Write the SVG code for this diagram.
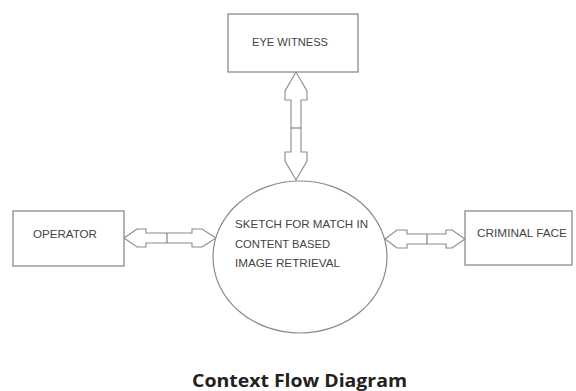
<svg xmlns="http://www.w3.org/2000/svg" width="576" height="391" viewBox="0 0 576 391">
<style>
.box{fill:#fff;stroke:#8a8a8a;stroke-width:1.3}
.lbl{font-family:"Liberation Sans",Arial,sans-serif;font-size:11px;fill:#444}
.arr{fill:#fff;stroke:#8a8a8a;stroke-width:1.1;stroke-linejoin:miter}
.tick{stroke:#777;stroke-width:1.1}
.title{font-family:"Open Sans","Liberation Sans",sans-serif;font-size:18px;font-weight:bold;fill:#222}
</style>
<rect width="576" height="391" fill="#fff"/>
<g id="connectors">
<polygon class="arr" points="296,72 285,91 285,100 291,100 291,152 285,152 285,161 296,180 307,161 307,152 301,152 301,100 307,100 307,91"/>
<line class="tick" x1="291" y1="128" x2="301" y2="128"/>
<polygon class="arr" points="124,238 137,229 146,229 146,233 192,233 192,229 202,229 216,238 202,247 192,247 192,243 146,243 146,247 137,247"/>
<line class="tick" x1="167" y1="233" x2="167" y2="243"/>
<polygon class="arr" points="385,239 397,230 407,230 407,234 446,234 446,230 452,230 465,239 452,248 446,248 446,244 407,244 407,248 397,248"/>
<line class="tick" x1="427" y1="234" x2="427" y2="244"/>
</g>
<g id="eye-witness">
<rect class="box" x="228" y="14" width="130" height="58"/>
<text class="lbl" x="252" y="46" textLength="76" lengthAdjust="spacingAndGlyphs">EYE WITNESS</text>
</g>
<g id="operator">
<rect class="box" x="13" y="211" width="111" height="55"/>
<text class="lbl" x="33" y="238" textLength="64" lengthAdjust="spacingAndGlyphs">OPERATOR</text>
</g>
<g id="criminal-face">
<rect class="box" x="465" y="211" width="107" height="54"/>
<text class="lbl" x="477" y="237" textLength="90" lengthAdjust="spacingAndGlyphs">CRIMINAL FACE</text>
</g>
<g id="process">
<ellipse cx="300" cy="257" rx="87" ry="76" fill="#fff" stroke="#8a8a8a" stroke-width="1.2"/>
<text class="lbl" x="235" y="228" textLength="133" lengthAdjust="spacingAndGlyphs">SKETCH FOR MATCH IN</text>
<text class="lbl" x="235" y="248" textLength="95" lengthAdjust="spacingAndGlyphs">CONTENT BASED</text>
<text class="lbl" x="235" y="267" textLength="105" lengthAdjust="spacingAndGlyphs">IMAGE RETRIEVAL</text>
</g>
<text class="title" x="192" y="387" textLength="215" lengthAdjust="spacingAndGlyphs">Context Flow Diagram</text>
</svg>
